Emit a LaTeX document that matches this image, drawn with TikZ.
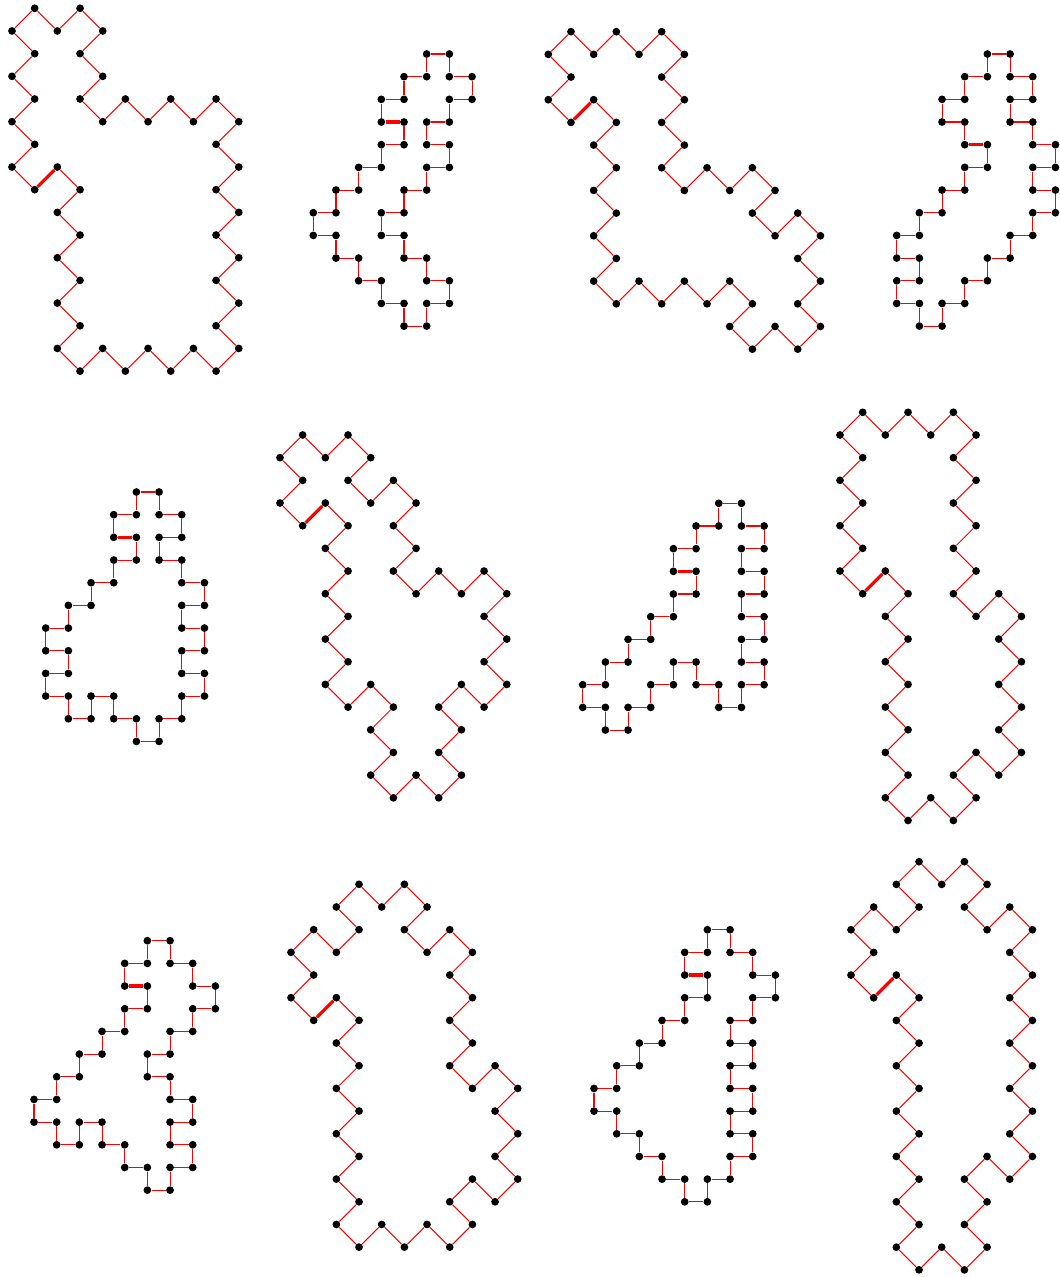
\documentclass[tikz,border=0pt]{standalone}
\usepackage{tikz}

% one closed lattice walk: name, origin (px), list of lattice points
% the walk starts and ends at the ends of the marked (thick) edge
\newcommand{\walk}[4]{%
  \begin{scope}[shift={(#2,#3)}, x=0.4536cm, y=-0.4536cm]
    \foreach \i/\j [count=\k] in {#4} {
      \node[walkdot] (#1-\k) at (\i,\j) {};
      \xdef\walklen{\k}
    }
    \draw[markedge] (#1-\walklen) -- (#1-1);
    \foreach \k in {2,...,\walklen} {
      \pgfmathtruncatemacro\prev{\k-1}
      \draw[walkedge] (#1-\prev) -- (#1-\k);
    }
  \end{scope}}

\begin{document}
\begin{tikzpicture}[
    x=0.02cm, y=-0.02cm,
    walkdot/.style={circle, fill=black, inner sep=0pt, minimum size=0.155cm},
    walkedge/.style={red, line width=0.6pt},
    markedge/.style={red, line width=1.8pt}
]
\useasboundingbox (0,0) rectangle (1060,1277);

% first row
\walk{f1}{12}{8.3}{2/7,3/8,2/9,3/10,2/11,3/12,2/13,3/14,2/15,3/16,4/15,5/16,6/15,7/16,8/15,9/16,10/15,9/14,10/13,9/12,10/11,9/10,10/9,9/8,10/7,9/6,10/5,9/4,8/5,7/4,6/5,5/4,4/5,3/4,4/3,3/2,4/1,3/0,2/1,1/0,0/1,1/2,0/3,1/4,0/5,1/6,0/7,1/8}
\walk{f2}{313.3}{54}{4/3,4/4,3/4,3/5,2/5,2/6,1/6,1/7,0/7,0/8,1/8,1/9,2/9,2/10,3/10,3/11,4/11,4/12,5/12,5/11,6/11,6/10,5/10,5/9,4/9,4/8,3/8,3/7,4/7,4/6,5/6,5/5,6/5,6/4,5/4,5/3,6/3,6/2,7/2,7/1,6/1,6/0,5/0,5/1,4/1,4/2,3/2,3/3}
\walk{f3}{548.3}{31.7}{2/3,3/4,2/5,3/6,2/7,3/8,2/9,3/10,2/11,3/12,4/11,5/12,6/11,7/12,8/11,9/12,8/13,9/14,10/13,11/14,12/13,11/12,12/11,11/10,12/9,11/8,10/9,9/8,10/7,9/6,8/7,7/6,6/7,5/6,6/5,5/4,6/3,5/2,6/1,5/0,4/1,3/0,2/1,1/0,0/1,1/2,0/3,1/4}
\walk{f4}{896.7}{54}{4/4,4/5,3/5,3/6,2/6,2/7,1/7,1/8,0/8,0/9,1/9,1/10,0/10,0/11,1/11,1/12,2/12,2/11,3/11,3/10,4/10,4/9,5/9,5/8,6/8,6/7,7/7,7/6,6/6,6/5,7/5,7/4,6/4,6/3,5/3,5/2,6/2,6/1,5/1,5/0,4/0,4/1,3/1,3/2,2/2,2/3,3/3,3/4}

% second row
\walk{f5}{45.7}{492}{4/2,4/3,3/3,3/4,2/4,2/5,1/5,1/6,0/6,0/7,1/7,1/8,0/8,0/9,1/9,1/10,2/10,2/9,3/9,3/10,4/10,4/11,5/11,5/10,6/10,6/9,7/9,7/8,6/8,6/7,7/7,7/6,6/6,6/5,7/5,7/4,6/4,6/3,5/3,5/2,6/2,6/1,5/1,5/0,4/0,4/1,3/1,3/2}
\walk{f6}{280}{435}{2/3,3/4,2/5,3/6,2/7,3/8,2/9,3/10,2/11,3/12,4/11,5/12,4/13,5/14,4/15,5/16,6/15,7/16,8/15,7/14,8/13,7/12,8/11,9/12,10/11,9/10,10/9,9/8,10/7,9/6,8/7,7/6,6/7,5/6,6/5,5/4,6/3,5/2,4/3,3/2,4/1,3/0,2/1,1/0,0/1,1/2,0/3,1/4}
\walk{f7}{582.7}{503.3}{5/3,5/4,4/4,4/5,3/5,3/6,2/6,2/7,1/7,1/8,0/8,0/9,1/9,1/10,2/10,2/9,3/9,3/8,4/8,4/7,5/7,5/8,6/8,6/9,7/9,7/8,8/8,8/7,7/7,7/6,8/6,8/5,7/5,7/4,8/4,8/3,7/3,7/2,8/2,8/1,7/1,7/0,6/0,6/1,5/1,5/2,4/2,4/3}
\walk{f8}{840}{412.3}{2/7,3/8,2/9,3/10,2/11,3/12,2/13,3/14,2/15,3/16,2/17,3/18,4/17,5/18,6/17,5/16,6/15,7/16,8/15,7/14,8/13,7/12,8/11,7/10,8/9,7/8,6/9,5/8,6/7,5/6,6/5,5/4,6/3,5/2,6/1,5/0,4/1,3/0,2/1,1/0,0/1,1/2,0/3,1/4,0/5,1/6,0/7,1/8}

% third row
\walk{f9}{34}{940.7}{5/2,5/3,4/3,4/4,3/4,3/5,2/5,2/6,1/6,1/7,0/7,0/8,1/8,1/9,2/9,2/8,3/8,3/9,4/9,4/10,5/10,5/11,6/11,6/10,7/10,7/9,6/9,6/8,7/8,7/7,6/7,6/6,5/6,5/5,6/5,6/4,7/4,7/3,8/3,8/2,7/2,7/1,6/1,6/0,5/0,5/1,4/1,4/2}
\walk{f10}{291}{884.3}{2/5,3/6,2/7,3/8,2/9,3/10,2/11,3/12,2/13,3/14,2/15,3/16,4/15,5/16,6/15,7/16,8/15,7/14,8/13,9/14,10/13,9/12,10/11,9/10,10/9,9/8,8/9,7/8,8/7,7/6,8/5,7/4,8/3,7/2,6/3,5/2,6/1,5/0,4/1,3/0,2/1,3/2,2/3,1/2,0/3,1/4,0/5,1/6}
\walk{f11}{594}{929.7}{5/2,5/3,4/3,4/4,3/4,3/5,2/5,2/6,1/6,1/7,0/7,0/8,1/8,1/9,2/9,2/10,3/10,3/11,4/11,4/12,5/12,5/11,6/11,6/10,7/10,7/9,6/9,6/8,7/8,7/7,6/7,6/6,7/6,7/5,6/5,6/4,7/4,7/3,8/3,8/2,7/2,7/1,6/1,6/0,5/0,5/1,4/1,4/2}
\walk{f12}{851}{861.7}{2/5,3/6,2/7,3/8,2/9,3/10,2/11,3/12,2/13,3/14,2/15,3/16,2/17,3/18,4/17,5/18,6/17,5/16,6/15,5/14,6/13,7/14,8/13,7/12,8/11,7/10,8/9,7/8,8/7,7/6,8/5,7/4,8/3,7/2,6/3,5/2,6/1,5/0,4/1,3/0,2/1,3/2,2/3,1/2,0/3,1/4,0/5,1/6}
\end{tikzpicture}
\end{document}
